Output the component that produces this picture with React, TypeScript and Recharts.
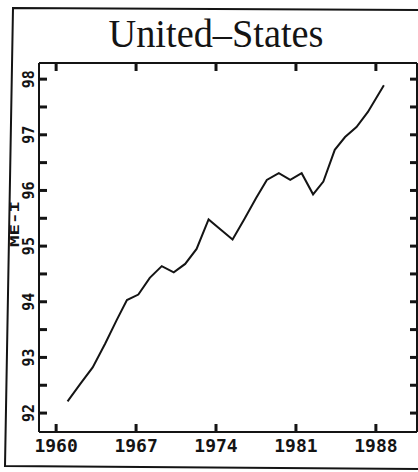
import { LineChart, Line, XAxis, YAxis } from "recharts";

// readings (year, index)
const years = [
  1961.0, 1962.1, 1963.2, 1964.3, 1965.3, 1966.2, 1967.2, 1968.2, 1969.25, 1970.3,
  1971.3, 1972.3, 1973.35, 1974.4, 1975.45, 1976.5, 1977.5, 1978.45, 1979.5, 1980.5,
  1981.5, 1982.5, 1983.4, 1984.4, 1985.3, 1986.3, 1987.3, 1988.7,
];
const values = [
  92.21, 92.52, 92.82, 93.25, 93.67, 94.03, 94.13, 94.43, 94.64, 94.53,
  94.68, 94.95, 95.48, 95.3, 95.12, 95.49, 95.86, 96.19, 96.31, 96.19,
  96.31, 95.93, 96.16, 96.73, 96.96, 97.14, 97.41, 97.89,
];
const xTicks = [1960, 1963.5, 1967, 1970.5, 1974, 1977.5, 1981, 1984.5, 1988];
const xLabels = [1960, 1967, 1974, 1981, 1988];
const yTicks = [92, 92.5, 93, 93.5, 94, 94.5, 95, 95.5, 96, 96.5, 97, 97.5, 98];
const yLabels = [92, 93, 94, 95, 96, 97, 98];

const title = "United–States";
const yTitle = "ME-I";

const data = years.map((year, i) => ({ year, value: values[i] }));

const INK = "#141414";
const MONO = "'DejaVu Sans Mono', monospace";
const X_DOMAIN = [1958.5, 1991.6];
const Y_DOMAIN = [91.66, 98.29];

function BottomTick({ x, y, payload }: any) {
  return (
    <g>
      <line x1={x} x2={x} y1={y} y2={y - 8} stroke={INK} strokeWidth={3} />
      {xLabels.includes(payload.value) && (
        <text x={x} y={y + 20} textAnchor="middle" fontFamily={MONO} fontWeight="bold" fontSize={18} fill={INK}>
          {payload.value}
        </text>
      )}
    </g>
  );
}

function TopTick({ x, y }: any) {
  return <line x1={x} x2={x} y1={y} y2={y + 8} stroke={INK} strokeWidth={3} />;
}

function LeftTick({ x, y, payload }: any) {
  return (
    <g>
      <line x1={x} x2={x + 8} y1={y} y2={y} stroke={INK} strokeWidth={3} />
      {yLabels.includes(payload.value) && (
        <text
          x={34}
          y={y}
          transform={`rotate(-90, 34, ${y})`}
          textAnchor="middle"
          fontFamily={MONO}
          fontWeight="bold"
          fontSize={15}
          fill={INK}
        >
          {payload.value}
        </text>
      )}
    </g>
  );
}

function RightTick({ x, y }: any) {
  return <line x1={x} x2={x - 7} y1={y} y2={y} stroke={INK} strokeWidth={3} />;
}

export default function App() {
  return (
    <div style={{ position: "absolute", left: 0, top: 0, width: 418, height: 472, overflow: "hidden", background: "#fff" }}>
      <LineChart width={418} height={472} data={data} margin={{ top: 62, right: 0, bottom: 39, left: 38 }}>
        <XAxis
          xAxisId="b"
          dataKey="year"
          type="number"
          domain={X_DOMAIN}
          ticks={xTicks}
          height={1}
          tickSize={0}
          tickMargin={0}
          tick={<BottomTick />}
          axisLine={{ stroke: INK, strokeWidth: 2 }}
          allowDataOverflow
        />
        <XAxis
          xAxisId="t"
          orientation="top"
          dataKey="year"
          type="number"
          domain={X_DOMAIN}
          ticks={xTicks}
          height={1}
          tickSize={0}
          tickMargin={0}
          tick={<TopTick />}
          axisLine={{ stroke: INK, strokeWidth: 2 }}
          allowDataOverflow
        />
        <YAxis
          yAxisId="l"
          type="number"
          domain={Y_DOMAIN}
          ticks={yTicks}
          width={1}
          tickSize={0}
          tickMargin={0}
          tick={<LeftTick />}
          axisLine={{ stroke: INK, strokeWidth: 2 }}
          allowDataOverflow
        />
        <YAxis
          yAxisId="r"
          orientation="right"
          type="number"
          domain={Y_DOMAIN}
          ticks={yTicks}
          width={1}
          tickSize={0}
          tickMargin={0}
          tick={<RightTick />}
          axisLine={{ stroke: INK, strokeWidth: 2 }}
          allowDataOverflow
        />
        <Line
          xAxisId="b"
          yAxisId="l"
          type="linear"
          dataKey="value"
          stroke={INK}
          strokeWidth={2}
          dot={false}
          isAnimationActive={false}
        />
      </LineChart>
      <svg width={418} height={472} style={{ position: "absolute", left: 0, top: 0, pointerEvents: "none" }}>
        <path d="M 420 10 L 13 8 L 5 466 L 420 469" fill="none" stroke={INK} strokeWidth={2} />
        <text
          x={216}
          y={47}
          textAnchor="middle"
          fontFamily="'Liberation Serif', 'DejaVu Serif', serif"
          fontSize={40}
          textLength={215}
          lengthAdjust="spacingAndGlyphs"
          fill={INK}
        >
          {title}
        </text>
        <text
          x={19}
          y={224}
          transform="rotate(-90, 19, 224)"
          textAnchor="middle"
          fontFamily={MONO}
          fontWeight="bold"
          fontSize={13}
          textLength={46}
          lengthAdjust="spacingAndGlyphs"
          fill={INK}
        >
          {yTitle}
        </text>
      </svg>
    </div>
  );
}
